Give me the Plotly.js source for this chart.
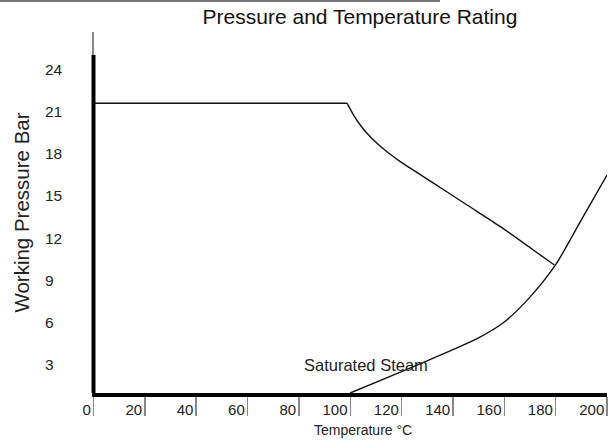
<!DOCTYPE html>
<html>
<head>
<meta charset="utf-8">
<script src="https://cdn.plot.ly/plotly-3.0.1.min.js"></script>
<style>html,body{margin:0;padding:0;background:#fff;}#chart{width:616px;height:441px;}</style>
</head>
<body>
<div id="chart"></div>
<script>
// Pressure / temperature rating line (°C, bar): flat to the knee, then curving down
var ratingTemp = [0, 98.8, 101.3, 103.9, 106.5, 110.4, 114.3, 119.5, 132.4, 145.5, 158.5, 171.3, 179.5];
var ratingPress = [21, 21, 20.15, 19.43, 18.83, 18.10, 17.49, 16.77, 15.22, 13.63, 12.06, 10.37, 9.28];
// Saturated steam curve (°C, bar)
var steamTemp = [100, 120, 140, 150, 160, 170, 180, 190, 200];
var steamPress = [0, 1.55, 3.15, 4.0, 5.15, 6.95, 9.3, 12.55, 15.8];
// Axis ticks
var xTicks = [0, 20, 40, 60, 80, 100, 120, 140, 160, 180, 200];
var yTicks = [3, 6, 9, 12, 15, 18, 21, 24];
var steamLabel = 'Saturated Steam';
var xTitle = 'Temperature °C';

var FONT = 'Arial, "Liberation Sans", sans-serif';
var LINE = {color: '#111', width: 1.4};

var traces = [
  // flat part of the rating line (first two points)
  {x: ratingTemp.slice(0, 2), y: ratingPress.slice(0, 2), mode: 'lines', line: LINE, hoverinfo: 'skip'},
  // curved part of the rating line (from the knee on)
  {x: ratingTemp.slice(1), y: ratingPress.slice(1), mode: 'lines',
   line: {color: LINE.color, width: LINE.width, shape: 'spline', smoothing: 0.6}, hoverinfo: 'skip'},
  {x: steamTemp, y: steamPress, mode: 'lines',
   line: {color: LINE.color, width: LINE.width, shape: 'spline', smoothing: 0.7}, hoverinfo: 'skip'},
  {x: [], y: [], yaxis: 'y2', mode: 'lines', hoverinfo: 'skip'}
];

var layout = {
  width: 616, height: 441,
  margin: {l: 0, r: 9, t: 32, b: 48},
  paper_bgcolor: '#fff', plot_bgcolor: '#fff',
  showlegend: false,
  font: {family: FONT, color: '#222'},
  title: {text: 'Pressure and Temperature Rating', font: {size: 21, color: '#111', family: FONT},
          xref: 'container', yref: 'container', x: 360/616, xanchor: 'center', y: 1 - 17/441, yanchor: 'middle'},
  xaxis: {
    domain: [93.5/607, 1], range: [0, 200], tickvals: xTicks,
    showgrid: false, zeroline: false, showline: true, linecolor: '#000', linewidth: 4,
    ticks: 'outside', ticklen: 19, tickwidth: 1.5, tickcolor: '#888',
    ticklabelposition: 'outside left', tickfont: {size: 15, color: '#222'}
  },
  yaxis: {
    range: [0, 26.17], showgrid: false, zeroline: false,
    showline: true, linecolor: '#888', linewidth: 1.5,
    showticklabels: false, ticks: '',
    title: {text: 'Working Pressure Bar', font: {size: 20.5, color: '#222'}, standoff: 57}
  },
  yaxis2: {
    overlaying: 'y', anchor: 'free', side: 'right', position: 44/607,
    range: [1.015, 26.63], tickvals: yTicks,
    showgrid: false, zeroline: false, showline: false, ticks: '',
    tickfont: {size: 15.5, color: '#222'}
  },
  shapes: [
    {type: 'line', xref: 'x domain', yref: 'y', x0: 0, x1: 0, y0: 0, y1: 24.5, line: {color: '#000', width: 4}},
    {type: 'line', xref: 'paper', yref: 'paper', x0: 0, x1: 440/607, y0: 1.086, y1: 1.086, line: {color: '#777', width: 2}}
  ],
  annotations: [
    {text: steamLabel, x: 106, y: 2.03, xref: 'x', yref: 'y', showarrow: false,
     font: {size: 16.5, color: '#222'}, xanchor: 'center', yanchor: 'middle'},
    {text: xTitle, x: 363/607, y: (393 - 430)/361, xref: 'paper', yref: 'paper', showarrow: false,
     font: {size: 14, color: '#222'}, xanchor: 'center', yanchor: 'middle'}
  ]
};

Plotly.newPlot('chart', traces, layout, {staticPlot: true, displayModeBar: false});
</script>
</body>
</html>
